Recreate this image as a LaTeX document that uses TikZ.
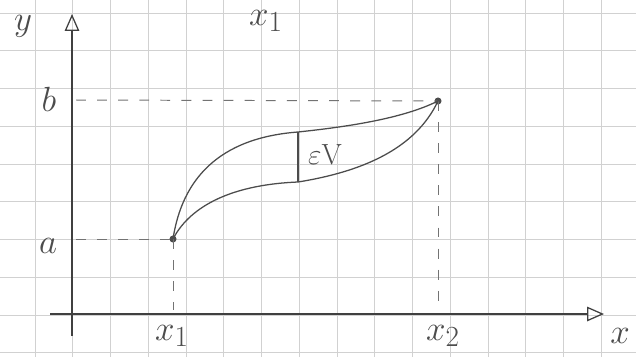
\documentclass[tikz,border=0pt]{standalone}
\usetikzlibrary{arrows.meta}

\begin{document}
\begin{tikzpicture}[x=0.025cm,y=-0.025cm,
  gridline/.style={draw=black!18,line width=0.5pt},
  axis/.style={draw=black!75,line width=1.3pt,
               -{Triangle[open,length=4.2mm,width=3.6mm,line width=0.9pt]}},
  pencil/.style={draw=black!70,line width=0.9pt},
  guide/.style={draw=black!55,line width=0.7pt,dash pattern=on 7pt off 8pt},
  dot/.style={circle,fill=black!70,inner sep=0pt,minimum size=5pt},
  lab/.style={font=\Huge,text=black!70},
]

% Paper + grid
\useasboundingbox (0,0) rectangle (636,357);
\fill[white] (0,0) rectangle (636,357);
\foreach \i in {0,...,15} \draw[gridline] ({35+37.75*\i},0) -- ({35+37.75*\i},357);
\foreach \j in {0,...,9} \draw[gridline] (0,{13+37.75*\j}) -- (636,{13+37.75*\j});

% Points
\coordinate (ybot) at (72,336);
\coordinate (ytip) at (72,14);
\coordinate (xbot) at (50,314);
\coordinate (xtip) at (604,314);
\coordinate (Ay) at (76,239);
\coordinate (By) at (76,100);
\coordinate (Ax) at (173,310);
\coordinate (Bx) at (438,306);
\coordinate (P) at (298,132);
\coordinate (Q) at (298,182);
\node[dot] (A) at (173,239) {};
\node[dot] (B) at (438,101) {};

% Axes
\draw[axis] (ybot) -- (ytip);
\draw[axis] (xbot) -- (xtip);

% Dashed guides
\draw[guide] (Ay) -- (A.center);
\draw[guide] (A.center) -- (Ax);
\draw[guide] (By) -- (B.center);
\draw[guide] (B.center) -- (Bx);

% Curves
\draw[pencil] (A.center) .. controls (182,180) and (218,138) .. (P)
  .. controls (345,127) and (402,119) .. (B.center);
\draw[pencil] (A.center) .. controls (188,210) and (225,185) .. (Q)
  .. controls (360,172) and (415,150) .. (B.center);
\draw[pencil] (P) -- (Q);

% Labels
\node[lab] (ylab) at (23,26) {$y$};
\node[lab] (blab) at (49,99) {$b$};
\node[lab] (alab) at (48,246) {$a$};
\node[lab] (xonelab) at (172,336) {$x_1$};
\node[lab] (xtwolab) at (443,336) {$x_2$};
\node[lab] (xlab) at (620,336) {$x$};
\node[lab] (toplab) at (266,21) {$x_1$};
\node[font=\huge,text=black!70] (ev) at (325,155) {$\varepsilon$V};

\end{tikzpicture}
\end{document}
